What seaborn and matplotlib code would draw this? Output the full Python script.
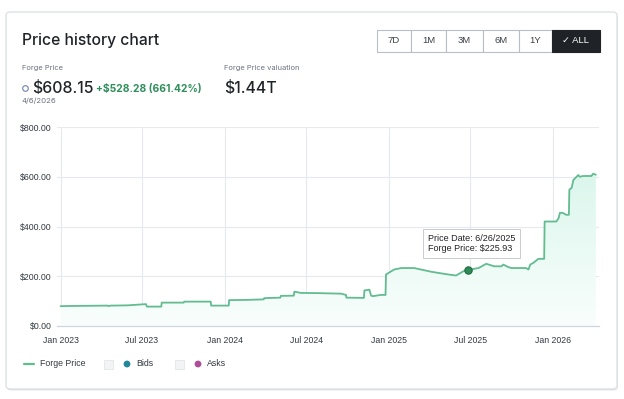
import numpy as np
import pandas as pd
import matplotlib
matplotlib.use("Agg")
import matplotlib.pyplot as plt
import matplotlib.dates as mdates
from matplotlib.patches import FancyBboxPatch, Rectangle, Ellipse
import seaborn as sns

sns.set_theme(style="white")
plt.rcParams['font.family'] = ['Inter', 'DejaVu Sans']
ARIAL = ["Liberation Sans", "DejaVu Sans"]

# ---- data ----
dates = [
    "2023-01-01", "2023-02-15", "2023-04-15", "2023-04-18", "2023-04-22", "2023-05-30",
    "2023-07-10", "2023-07-12", "2023-08-13", "2023-08-14", "2023-10-02", "2023-10-03",
    "2023-12-01", "2023-12-02", "2024-01-10", "2024-01-11", "2024-02-20", "2024-03-28",
    "2024-03-29", "2024-05-04", "2024-05-05", "2024-06-03", "2024-06-04", "2024-06-19",
    "2024-08-01", "2024-09-16", "2024-09-27", "2024-09-28", "2024-11-06", "2024-11-07",
    "2024-11-18", "2024-11-22", "2024-11-26", "2024-12-14", "2024-12-24", "2024-12-25",
    "2025-01-12", "2025-01-28", "2025-02-26", "2025-03-13", "2025-04-05", "2025-05-13",
    "2025-05-30", "2025-06-15", "2025-06-26", "2025-07-19", "2025-08-05", "2025-08-23",
    "2025-09-08", "2025-09-12", "2025-09-23", "2025-09-30", "2025-11-02", "2025-11-07",
    "2025-11-11", "2025-11-18", "2025-11-29", "2025-12-12", "2025-12-13", "2026-01-08",
    "2026-01-13", "2026-01-16", "2026-01-22", "2026-01-30", "2026-02-05", "2026-02-06",
    "2026-02-11", "2026-02-15", "2026-02-26", "2026-03-01", "2026-03-09", "2026-03-27",
    "2026-03-31", "2026-04-06",
]
prices = [
    79.87, 81, 82, 80, 82, 83,
    88, 78, 78, 94, 94, 98,
    98, 82, 82, 104, 105, 107,
    112, 114, 121, 122, 138, 133,
    132, 130, 125, 114, 113, 143,
    146, 122, 120, 125, 125, 207,
    227, 233, 233, 227, 218, 207,
    203, 220, 225.93, 233, 250, 240,
    240, 247, 237, 233, 233, 227,
    247, 254, 270, 270, 420, 420,
    433, 455, 455, 447, 447, 548,
    555, 587, 607, 600, 603, 603,
    612, 608.15,
]
x_ticks = ["2023-01-01", "2023-07-01", "2024-01-01", "2024-07-01",
           "2025-01-01", "2025-07-01", "2026-01-01"]
x_tick_labels = ["Jan 2023", "Jul 2023", "Jan 2024", "Jul 2024",
                 "Jan 2025", "Jul 2025", "Jan 2026"]
y_ticks = [0, 200, 400, 600, 800]
y_tick_labels = ["$0.00", "$200.00", "$400.00", "$600.00", "$800.00"]
tooltip_date = "2025-06-26"
tooltip_price = 225.93
ranges = ["7D", "1M", "3M", "6M", "1Y", "\u2713 ALL"]

df = pd.DataFrame({"date": pd.to_datetime(dates), "price": prices})

W, H = 624, 399
fig = plt.figure(figsize=(W / 100, H / 100), dpi=100)
fig.patch.set_facecolor("white")

def fx(px):
    return px / W

def fy(py):
    return 1 - py / H

def dot(px, py, r, **kw):
    e = Ellipse((fx(px), fy(py)), 2 * r / W, 2 * r / H, transform=fig.transFigure, **kw)
    fig.patches.append(e)

# card with soft shadow
for off, a in [(2.0, 0.05), (1.0, 0.07)]:
    sh = FancyBboxPatch((fx(6 + off * 0.5), fy(389 + off)), fx(611), (389 - 12) / H,
                        boxstyle="round,pad=0,rounding_size=0.008",
                        transform=fig.transFigure, facecolor=(0, 0, 0, a),
                        edgecolor="none", zorder=-6)
    fig.patches.append(sh)
card = FancyBboxPatch((fx(6), fy(389)), fx(611), (389 - 12) / H,
                      boxstyle="round,pad=0,rounding_size=0.008",
                      transform=fig.transFigure, facecolor="white",
                      edgecolor="#dde1e6", linewidth=1.0, zorder=-5)
fig.patches.append(card)

# plot axes
ax_l, ax_r, ax_t, ax_b = 57, 599, 127, 326
ax = fig.add_axes([fx(ax_l), fy(ax_b), fx(ax_r - ax_l), (ax_b - ax_t) / H], zorder=2)
ax.set_facecolor("none")

line_c = "#62bb91"
sns.lineplot(data=df, x="date", y="price", ax=ax, color=line_c, linewidth=1.3,
             legend=False, zorder=3)

xlo = pd.Timestamp("2022-12-24")
xhi = pd.Timestamp("2026-04-13")

# gradient fill
poly = ax.fill_between(df["date"], df["price"], 0, color="none", linewidth=0)
grad = np.linspace(1, 0, 256).reshape(-1, 1)
cmap = matplotlib.colors.LinearSegmentedColormap.from_list(
    "g", ["#f9fefc", "#dbf6ec"])
xl = mdates.date2num(df["date"].iloc[0])
xr = mdates.date2num(df["date"].iloc[-1])
im = ax.imshow(grad, extent=[xl, xr, 0, 620], aspect="auto", cmap=cmap,
               origin="upper", zorder=1)
im.set_clip_path(poly.get_paths()[0], transform=ax.transData)
ax.set_xlim(xlo, xhi)
ax.set_ylim(0, 800)

# grid
grid_c = "#e6e9ed"
ax.set_xticks(pd.to_datetime(x_ticks))
ax.set_xticklabels(x_tick_labels, family=ARIAL)
ax.set_yticks(y_ticks)
ax.set_yticklabels(y_tick_labels, family=ARIAL)
ax.grid(True, color=grid_c, linewidth=0.8)
ax.set_axisbelow(True)
for s in ["top", "right", "left"]:
    ax.spines[s].set_visible(False)
ax.spines["bottom"].set_color("#cfd5dc")
ax.spines["bottom"].set_linewidth(0.9)
ax.tick_params(axis="x", length=4, width=0.8, color="#cfd5dc", pad=3.5,
               labelsize=6.3, labelcolor="#333a42")
ax.tick_params(axis="y", length=3, width=0.8, color=grid_c, pad=0.6,
               labelsize=6.3, labelcolor="#333a42")
ax.set_xlabel("")
ax.set_ylabel("")

# tooltip marker
td = pd.Timestamp(tooltip_date)
ax.scatter([td], [tooltip_price], s=28, color="#2e8b57", edgecolor="#1f6b42",
           linewidth=0.8, zorder=5)
ax.annotate(f"Price Date: 6/26/2025\nForge Price: ${tooltip_price:.2f}",
            xy=(td, tooltip_price), xytext=(-29, 19), textcoords="offset points",
            fontsize=6.5, color="#222", ha="left", va="center",
            family=ARIAL, linespacing=1.2,
            bbox=dict(boxstyle="square,pad=0.5", fc="white", ec="#c8ccd0", lw=0.7),
            zorder=6)

# header texts
fig.text(fx(22), fy(40), "Price history chart", fontsize=11.3, color="#1f2328",
         va="center", ha="left", fontweight="medium")
fig.text(fx(22), fy(68), "Forge Price", fontsize=5.4, color="#6b7280",
         va="center", ha="left")
fig.text(fx(224), fy(68), "Forge Price valuation", fontsize=5.4, color="#6b7280",
         va="center", ha="left")
dot(25.5, 88.5, 2.8, facecolor="white", edgecolor="#7e8fb3", linewidth=0.9)
fig.text(fx(32), fy(88), "$608.15", fontsize=11.4, color="#1f2328",
         va="center", ha="left", fontweight="medium")
fig.text(fx(96), fy(89), "+$528.28 (661.42%)", fontsize=7.4, color="#2f8f5b",
         va="center", ha="left", fontweight="bold")
fig.text(fx(22), fy(101), "4/6/2026", fontsize=5.6, color="#6b7280",
         va="center", ha="left")
fig.text(fx(224), fy(88), "$1.44T", fontsize=11.4, color="#1f2328",
         va="center", ha="left", fontweight="medium")

# range buttons
edges = [377, 411, 446, 482.5, 519, 552, 599.5]
by0, by1 = 30, 51.5
for i, lab in enumerate(ranges):
    x0, x1 = edges[i], edges[i + 1]
    dark = i == len(ranges) - 1
    r = Rectangle((fx(x0), fy(by1)), fx(x1 - x0), (by1 - by0) / H,
                  transform=fig.transFigure,
                  facecolor="#1f2328" if dark else "white",
                  edgecolor="#1f2328" if dark else "#b9bfc7", linewidth=0.8)
    fig.patches.append(r)
    fig.text(fx((x0 + x1) / 2), fy((by0 + by1) / 2), lab, fontsize=6.8,
             color="white" if dark else "#3b4048", ha="center", va="center",
             family=ARIAL)

# legend
ly = 364
fig.lines.append(plt.Line2D([fx(24), fx(34)], [fy(ly), fy(ly)],
                            transform=fig.transFigure, color=line_c, linewidth=1.6))
fig.text(fx(40), fy(ly), "Forge Price", fontsize=6.3, color="#333a42",
         va="center", ha="left", family=ARIAL)
for bx, dc, lab in [(104, "#23889a", "Bids"), (175, "#b14d98", "Asks")]:
    fig.patches.append(Rectangle((fx(bx), fy(ly + 4.5)), fx(9), 9 / H,
                                 transform=fig.transFigure, facecolor="#f3f4f6",
                                 edgecolor="#e3e5e8", linewidth=0.6))
    dot(bx + 23, ly, 3.4, facecolor=dc, edgecolor="none")
    fig.text(fx(bx + 32), fy(ly), lab, fontsize=6.3, color="#333a42",
             va="center", ha="left", family=ARIAL)

fig.savefig("out.png", dpi=100, facecolor="white")
